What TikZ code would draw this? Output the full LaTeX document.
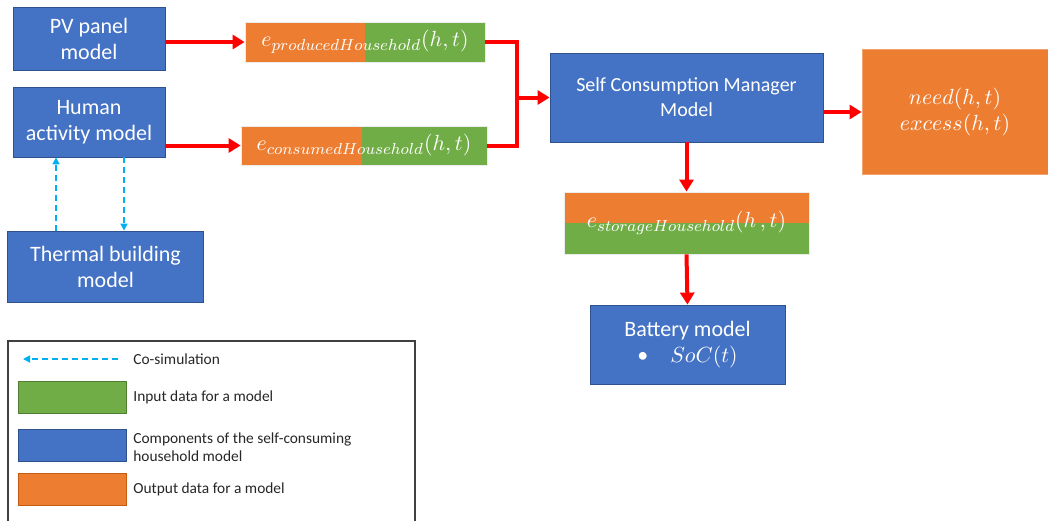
\documentclass[tikz,border=0pt]{standalone}
\usepackage{fontspec}
\setmainfont{Carlito}
\usepackage{xcolor}
\definecolor{modelblue}{HTML}{4472C4}
\definecolor{modeledge}{HTML}{2F528F}
\definecolor{dataorange}{HTML}{ED7D31}
\definecolor{orangeedge}{HTML}{C55A11}
\definecolor{datagreen}{HTML}{70AD47}
\definecolor{greenedge}{HTML}{507E32}
\definecolor{flowred}{HTML}{FF0000}
\definecolor{cosimcyan}{HTML}{00B0F0}
\definecolor{legendgray}{HTML}{404040}
\usepackage{tikz}
\usetikzlibrary{arrows.meta,positioning,calc}

\tikzset{
  model/.style={draw=modeledge, fill=modelblue, text=white, align=center,
    inner sep=0pt, font=\fontsize{11}{13}\selectfont},
  outdata/.style={draw=dataorange!70, fill=dataorange, text=white, align=center,
    inner sep=0pt, font=\fontsize{11}{13}\selectfont},
  lrsplit/.style={draw=white!85!gray, text=white, inner sep=0pt,
    font=\fontsize{11}{13}\selectfont, path picture={
      \fill[dataorange] (path picture bounding box.south west) rectangle
        ($(path picture bounding box.north west)!#1!(path picture bounding box.north east)$);
      \fill[datagreen] ($(path picture bounding box.south west)!#1!(path picture bounding box.south east)$)
        rectangle (path picture bounding box.north east);}},
  tbsplit/.style={draw=white!85!gray, text=white, inner sep=0pt,
    font=\fontsize{11}{13}\selectfont, path picture={
      \fill[datagreen] (path picture bounding box.south west) rectangle
        ($(path picture bounding box.south east)!0.5!(path picture bounding box.north east)$);
      \fill[dataorange] ($(path picture bounding box.south west)!0.5!(path picture bounding box.north west)$)
        rectangle (path picture bounding box.north east);}},
  flow/.style={flowred, line width=2pt, -{Triangle[length=6pt,width=7pt]}},
  flowline/.style={flowred, line width=2pt},
  cosim/.style={cosimcyan, line width=0.8pt, dash pattern=on 3pt off 2pt,
    -{Triangle[length=3.5pt,width=3.5pt]}},
  swatch/.style={minimum width=54pt, minimum height=16pt, inner sep=0pt},
  legendtext/.style={anchor=west, align=left, inner sep=0pt,
    font=\fontsize{7.7}{9.2}\selectfont, text=black!85},
}

\begin{document}
\begin{tikzpicture}[x=0.5pt, y=-0.5pt]
  \useasboundingbox (0,0) rectangle (1048,520);

  % models
  \node[model, minimum width=76pt, minimum height=31.5pt] (pv) at (89,38.5) {PV panel\\model};
  \node[model, minimum width=76pt, minimum height=35pt] (human) at (89,122) {Human\\activity model};
  \node[model, minimum width=98pt, minimum height=35.5pt] (thermal) at (105.5,266.5) {Thermal building\\model};
  \node[model, minimum width=136.5pt, minimum height=44.5pt, font=\fontsize{10}{12.5}\selectfont] (scm) at (686.5,97.5) {Self Consumption Manager\\Model};
  \node[model, minimum width=97.5pt, minimum height=39.5pt] (batt) at (687.5,344.5) {Battery model\\\textbullet\quad$SoC(t)$};

  % data
  \node[lrsplit=0.5, minimum width=120pt, minimum height=20pt] (prod) at (365,42) {$e_{producedHousehold}(h,t)$};
  \node[lrsplit=0.49, minimum width=123pt, minimum height=19.5pt] (cons) at (364,145.5) {$e_{consumedHousehold}(h,t)$};
  \node[tbsplit, minimum width=122.5pt, minimum height=31pt] (store) at (686.5,223) {$e_{storageHousehold}(h\,,t)$};
  \node[outdata, minimum width=93pt, minimum height=62.5pt] (out) at (955,112) {$need(h,t)$\\$excess(h,t)$};

  % flows
  \draw[flow] (pv.east |- prod) -- (prod.west);
  \draw[flow] (human.east |- cons) -- (cons.west);
  \coordinate (join) at ([xshift=16pt]prod.east |- scm.west);
  \draw[flowline] (prod.east) -| (join);
  \draw[flowline] (cons.east) -| (join);
  \draw[flow] (join) -- (scm.west);
  \draw[flow] (scm.east |- out) -- (out.west);
  \draw[flow] (scm.south) -- (store.north);
  \draw[flow] (store.south) -- (batt.north);

  % co-simulation
  \draw[cosim] ([xshift=-24.75pt]thermal.north) coordinate (up) -- (up |- human.south);
  \draw[cosim] ([xshift=17.5pt]human.south) coordinate (down) -- (down |- thermal.north);

  % legend
  \draw[legendgray, line width=0.7pt] (8,341) rectangle (415,530);
  \coordinate (cosimtail) at (118,359);
  \coordinate (cosimhead) at (23,359);
  \draw[cosim] (cosimtail) -- (cosimhead);
  \node[legendtext] (lcosim) at (133,359) {Co-simulation};
  \node[swatch, fill=datagreen, draw=greenedge] (lgreen) at (72,397) {};
  \node[legendtext] (linput) at (133,397) {Input data for a model};
  \node[swatch, fill=modelblue, draw=modeledge] (lblue) at (72,445.5) {};
  \node[legendtext] (lcomp) at (133,447) {Components of the self-consuming\\household model};
  \node[swatch, fill=dataorange, draw=orangeedge] (lorange) at (72,489) {};
  \node[legendtext] (loutput) at (133,489) {Output data for a model};
\end{tikzpicture}
\end{document}
